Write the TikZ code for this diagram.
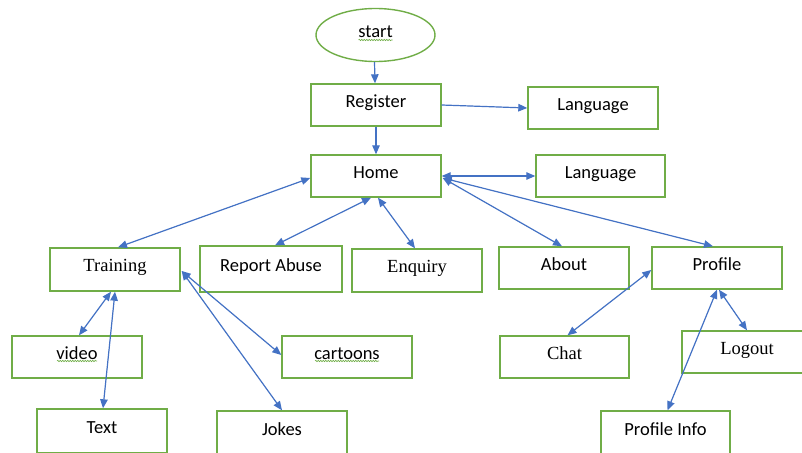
\documentclass[tikz,border=0pt]{standalone}
\usepackage{fontspec}
\setmainfont{Carlito}
\newfontfamily\timesfont{Liberation Serif}
\usetikzlibrary{arrows.meta,shapes.geometric,decorations.pathmorphing}
\definecolor{boxgreen}{HTML}{70AD47}
\definecolor{linkblue}{HTML}{4472C4}

\begin{document}
\begin{tikzpicture}[
    x=1pt,y=-1pt,>={Triangle[length=9pt,width=7.5pt]},
    box/.style={draw=boxgreen,line width=1.4pt,minimum width=130pt,minimum height=42pt,inner sep=0pt,text height=0.7em,text depth=0.45em},
    startnode/.style={ellipse,draw=boxgreen,line width=1.4pt,minimum width=119pt,minimum height=53pt,inner sep=0pt,text height=0.7em,text depth=0.45em},
    link/.style={draw=linkblue,line width=1.2pt,fill=linkblue},
    squig/.style={draw=boxgreen,line width=0.6pt,decorate,decoration={snake,segment length=2.5pt,amplitude=0.7pt}}
  ]
  \fontsize{18.5}{22}\selectfont
  \useasboundingbox (0,0) rectangle (802,452);
  \clip (0,0) rectangle (802,452);
  \node[startnode] (start) at (375.5,35) {start};
  \node[box] (reg) at (376,105) {Register};
  \node[box] (lang1) at (593,108) {Language};
  \node[box] (home) at (376,176) {Home};
  \node[box,minimum width=129pt] (lang2) at (600.5,176) {Language};
  \node[box,minimum height=43pt] (training) at (115,269.5) {\timesfont Training};
  \node[box,minimum width=142pt,minimum height=46pt] (report) at (271,269) {Report Abuse};
  \node[box,minimum height=43pt] (enquiry) at (417,270.5) {\timesfont Enquiry};
  \node[box] (about) at (564,268) {About};
  \node[box] (profile) at (717,268) {Profile};
  \node[box] (video) at (77,357) {video};
  \node[box] (cartoons) at (347,357) {cartoons};
  \node[box,minimum width=129pt] (chat) at (564.5,357) {\timesfont Chat};
  \node[box] (logout) at (747,352) {\timesfont Logout};
  \node[box,minimum height=44pt] (text) at (102,431) {Text};
  \node[box,minimum height=44pt] (jokes) at (282,433) {Jokes};
  \node[box,minimum width=129pt,minimum height=44pt] (pinfo) at (665.5,433) {Profile Info};
  \draw[squig] ([shift={(-17,5)}]start.center) -- ([shift={(17,5)}]start.center);
  \draw[squig] ([shift={(-20,4)}]video.center) -- ([shift={(20,4)}]video.center);
  \draw[squig] ([shift={(-32,4)}]cartoons.center) -- ([shift={(32,4)}]cartoons.center);
  \draw[->,link] ([xshift=-1pt]start.south) -- ([xshift=-1pt]reg.north);
  \draw[->,link] (reg.east) -- (lang1.west);
  \draw[->,link] (reg.south) -- (home.north);
  \draw[<->,link] (home.east) -- (lang2.west);
  \draw[<->,link] ([yshift=-2pt]home.west) -- ([xshift=3pt]training.north);
  \draw[<->,link] ([xshift=-5pt]home.south) -- ([xshift=4pt]report.north);
  \draw[<->,link] ([xshift=2pt]home.south) -- ([xshift=-2pt]enquiry.north);
  \draw[<->,link] ([xshift=1pt,yshift=-2pt]home.east) -- ([xshift=-2pt]about.north);
  \draw[<->,link] ([xshift=1pt,yshift=-2pt]home.east) -- ([xshift=-4pt]profile.north);
  \draw[<->,link] ([xshift=-4pt]training.south) -- ([xshift=2pt]video.north);
  \draw[<->,link] (training.south) -- ([xshift=1pt]text.north);
  \draw[<->,link] ([xshift=1pt,yshift=-1.5pt]training.east) -- ([yshift=2pt]cartoons.west);
  \draw[<->,link] ([xshift=1pt,yshift=-1.5pt]training.east) -- (jokes.north);
  \draw[<->,link] ([xshift=3pt]chat.north) -- ([yshift=-2pt]profile.west);
  \draw[<->,link] ([xshift=2pt]profile.south) -- (logout.north);
  \draw[<->,link] (profile.south) -- ([xshift=2pt]pinfo.north);
\end{tikzpicture}
\end{document}
